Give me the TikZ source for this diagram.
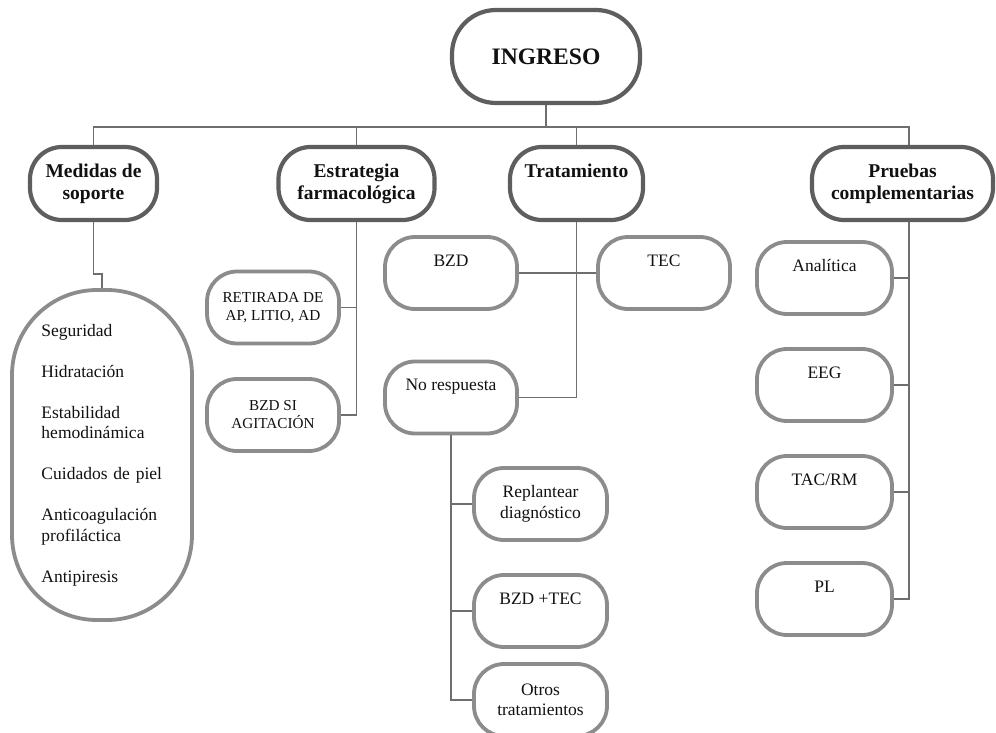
\documentclass[tikz,border=0pt]{standalone}
\usepackage{fontspec}
\setmainfont{Liberation Serif}
\definecolor{maincol}{HTML}{5E5E5E}
\definecolor{subcol}{HTML}{8C8C8C}
\definecolor{conncol}{HTML}{6E6E6E}
\definecolor{txt}{HTML}{111111}
\newcommand{\mainf}{\fontsize{19.5}{22}\selectfont\bfseries}
\newcommand{\ingf}{\fontsize{23.6}{26}\selectfont\bfseries}
\newcommand{\subf}{\fontsize{17.5}{20.5}\selectfont}
\newcommand{\retf}{\fontsize{15.2}{18}\selectfont}
\begin{document}
\begin{tikzpicture}[x=1pt,y=-1pt,
  main/.style={draw=maincol, line width=4.2pt, rounded corners=32pt, fill=white, inner sep=0pt, align=center, font=\mainf, text=txt},
  sub/.style={draw=subcol, line width=3.8pt, rounded corners=30pt, fill=white, inner sep=0pt, align=center, font=\subf, text=txt, minimum width=132pt, minimum height=72pt},
  toptext/.style={text height=29pt, text depth=43pt},
  conn/.style={draw=conncol, line width=1.5pt}]
\useasboundingbox (0,0) rectangle (996,733);

% main nodes
\node[main, minimum width=188pt, minimum height=93pt, rounded corners=44pt, font=\ingf] (ingreso) at (546,56.5) {INGRESO};
\node[main, minimum width=127pt, minimum height=73pt] (medidas) at (93.5,183.5) {Medidas de\\soporte};
\node[main, minimum width=156pt, minimum height=73pt] (estr) at (356.5,183.5) {Estrategia\\farmacológica};
\node[main, minimum width=133pt, minimum height=73pt, text height=31pt, text depth=42pt] (trat) at (576.5,183.5) {Tratamiento};
\node[main, minimum width=181pt, minimum height=73pt] (pruebas) at (902.5,183.5) {Pruebas\\complementarias};

% list
\node[sub, minimum width=180pt, minimum height=330pt, rounded corners=85pt, text width=121pt, align=left] (lista) at (102,455)
 {Seguridad\\[20.5pt]Hidratación\\[20.5pt]Estabilidad\\hemodinámica\\[20.5pt]Cuidados de piel\\[20.5pt]Anticoagulación\\profiláctica\\[20.5pt]Antipiresis};

% estrategia children
\node[sub, font=\retf] (retir) at (273,307.5) {RETIRADA DE\\AP, LITIO, AD};
\node[sub, font=\retf] (bzdsi) at (273,415) {BZD SI\\AGITACIÓN};

% tratamiento children
\node[sub, toptext] (bzd) at (451,273) {BZD};
\node[sub, toptext] (tec) at (664,273) {TEC};
\node[sub, toptext] (noresp) at (451,397.5) {No respuesta};
\node[sub, minimum width=133pt] (replant) at (540.5,504) {Replantear\\diagnóstico};
\node[sub, toptext, minimum width=133pt] (bzdtec) at (540.5,611) {BZD +TEC};
\node[sub, minimum width=133pt] (otros) at (540.5,700) {Otros\\tratamientos};

% pruebas children
\node[sub, toptext, minimum width=135pt] (anal) at (824.5,278) {Analítica};
\node[sub, toptext, minimum width=135pt] (eeg) at (824.5,385) {EEG};
\node[sub, toptext, minimum width=135pt] (tac) at (824.5,492) {TAC/RM};
\node[sub, toptext, minimum width=135pt] (pl) at (824.5,599) {PL};

\coordinate (bar) at (546,127);
\coordinate (pst) at (909,0);

% connectors
\draw[conn] (ingreso.south) -- (bar);
\draw[conn] (medidas.north) -- (medidas.north |- bar) -- (pst |- bar) -- (pst |- pruebas.north);
\draw[conn] (estr.north) -- (estr.north |- bar);
\draw[conn] (trat.north) -- (trat.north |- bar);
\draw[conn] (medidas.south) -- ++(0,52) -| (lista.north);

\draw[conn] (estr.south) -- (estr.south |- bzdsi.east) -- (bzdsi.east);
\draw[conn] (retir.east) -- (retir.east -| estr.south);

\draw[conn] (trat.south) -- (trat.south |- noresp.east) -- (noresp.east);
\draw[conn] (bzd.east) -- (tec.west);

\draw[conn] (noresp.south) -- (noresp.south |- otros.west) -- (otros.west);
\draw[conn] (replant.west) -- (replant.west -| noresp.south);
\draw[conn] (bzdtec.west) -- (bzdtec.west -| noresp.south);

\draw[conn] (pst |- pruebas.south) -- (pst |- pl.east) -- (pl.east);
\draw[conn] (anal.east) -- (anal.east -| pst);
\draw[conn] (eeg.east) -- (eeg.east -| pst);
\draw[conn] (tac.east) -- (tac.east -| pst);
\end{tikzpicture}
\end{document}
